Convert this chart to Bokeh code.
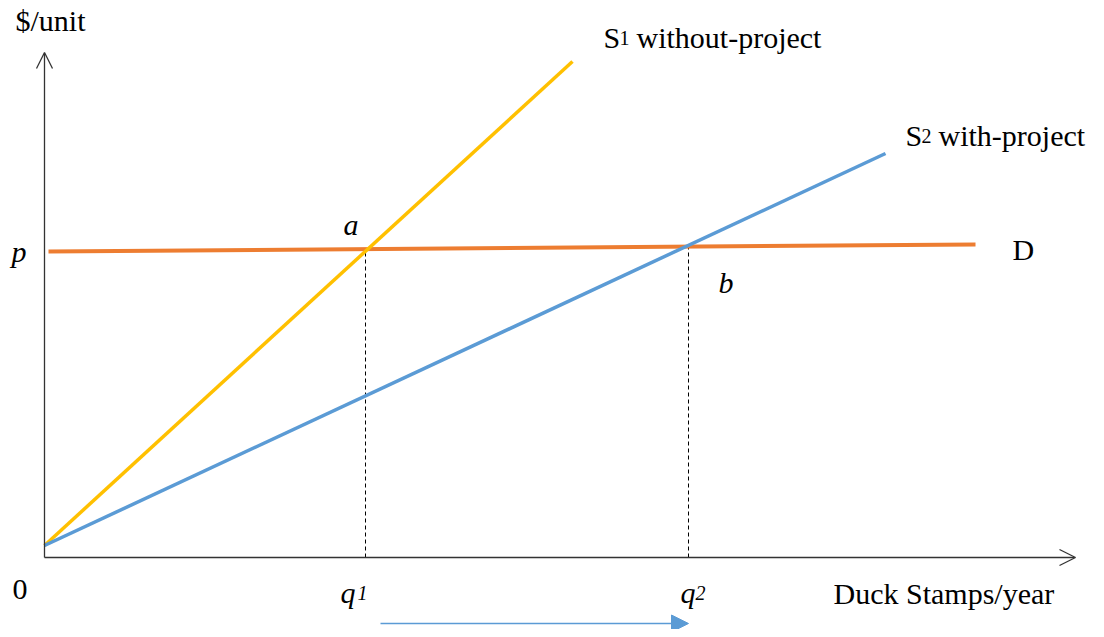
from bokeh.plotting import figure
from bokeh.models import Range1d, Arrow, OpenHead, NormalHead
from bokeh.core.properties import value
from bokeh.embed import file_html
from bokeh.resources import INLINE

# ---- data (quantity on x, $/unit on y) ----
s1_x = [0.0, 52.8]
s1_y = [1.2, 49.6]
s2_x = [0.0, 84.1]
s2_y = [1.2, 40.4]
d_x = [0.4, 93.1]
d_y = [30.6, 31.3]
q_vals = [32.1, 64.4]          # q1, q2
q_tops = [30.6, 31.1]          # where the dashed drops start (on D)
p_val = 30.6
axis_x_end = 103.1
axis_y_end = 50.5

FONT = value("Liberation Serif")
YELLOW = "#FFC000"
BLUE = "#5B9BD5"
ORANGE = "#ED7D31"
AX = "#333333"

p = figure(width=1096, height=629,
           x_range=Range1d(-4.4, 105.2), y_range=Range1d(-7.2, 55.7),
           x_axis_type=None, y_axis_type=None,
           output_backend="svg", toolbar_location=None,
           min_border=0, min_border_left=0, min_border_right=0,
           min_border_top=0, min_border_bottom=0)
p.grid.visible = False
p.outline_line_color = None
p.background_fill_color = "white"
p.border_fill_color = "white"

# axes with open arrow heads
p.add_layout(Arrow(x_start=0, y_start=0, x_end=0, y_end=axis_y_end,
                   line_color=AX, line_width=1.3,
                   end=OpenHead(size=16, line_color=AX, line_width=1.3)))
p.add_layout(Arrow(x_start=0, y_start=0, x_end=axis_x_end, y_end=0,
                   line_color=AX, line_width=1.3,
                   end=OpenHead(size=16, line_color=AX, line_width=1.3)))

# dashed drop lines
for qx, qt in zip(q_vals, q_tops):
    p.line([qx, qx], [0, qt], line_color="black", line_width=1, line_dash="4 3")

# curves
p.line(d_x, d_y, line_color=ORANGE, line_width=4)
p.line(s1_x, s1_y, line_color=YELLOW, line_width=3.5)
p.line(s2_x, s2_y, line_color=BLUE, line_width=3.5)

# shift arrow q1 -> q2
p.add_layout(Arrow(x_start=q_vals[0] + 1.5, y_start=-6.6, x_end=q_vals[1], y_end=-6.6,
                   line_color=BLUE, line_width=1.5,
                   end=NormalHead(size=17, fill_color=BLUE, line_color=BLUE)))

BIG = "30px"
SMALL = "20px"

def txt(x, y, s, size=BIG, style="normal"):
    p.text(x=[x], y=[y + 1.0], text=[s], text_font=FONT, text_font_size=size,
           text_font_style=style, text_color="black",
           text_align="left", text_baseline="alphabetic")

txt(-2.9, 52.7, "$/unit")
txt(55.9, 51.0, "S")
txt(57.5, 51.0, "1", SMALL)
txt(59.2, 51.0, "without-project")
txt(86.1, 41.2, "S")
txt(87.7, 41.2, "2", SMALL)
txt(89.4, 41.2, "with-project")
txt(96.8, 29.8, "D")
txt(-3.3, p_val - 1.0, "p", style="italic")
txt(q_vals[0] - 2.2, 32.3, "a", style="italic")
txt(q_vals[1] + 3.0, 26.5, "b", style="italic")
txt(-3.2, -4.2, "0")
txt(q_vals[0] - 2.5, -4.5, "q", style="italic")
txt(q_vals[0] - 0.8, -4.5, "1", SMALL, "italic")
txt(q_vals[1] - 0.8, -4.5, "q", style="italic")
txt(q_vals[1] + 0.7, -4.5, "2", SMALL, "italic")
txt(78.9, -4.6, "Duck Stamps/year")

open("out.html", "w").write(file_html(p, INLINE))
